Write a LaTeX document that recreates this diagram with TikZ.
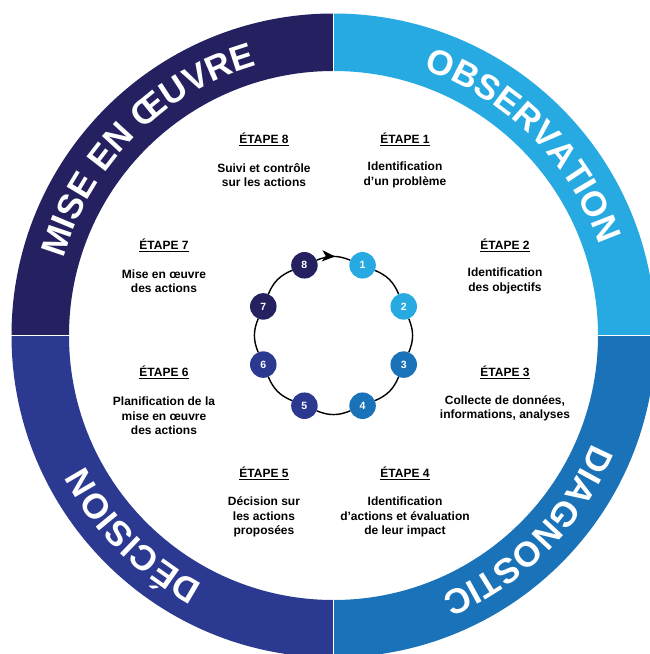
\documentclass[tikz,border=0pt]{standalone}
\usepackage{fontspec}
\setmainfont{Liberation Sans}
\usetikzlibrary{arrows.meta,decorations.text,decorations.markings}

\definecolor{obs}{HTML}{27AAE1}
\definecolor{diag}{HTML}{1A72B8}
\definecolor{deci}{HTML}{2B3990}
\definecolor{mise}{HTML}{252160}

\newcommand{\ringfont}{\fontsize{35}{35}\selectfont\bfseries}

\tikzset{
  pastille/.style={circle,minimum size=26.5pt,inner sep=0pt,text=white,
    font=\fontsize{10.5}{12}\selectfont\bfseries},
  titre/.style={font=\fontsize{12}{14.5}\selectfont\bfseries,inner sep=0pt},
  texte/.style={font=\fontsize{12}{14.5}\selectfont\bfseries,align=center,inner sep=0pt},
  boucle/.style={line width=1.4pt,black},
}

\begin{document}
\begin{tikzpicture}[x=1pt,y=1pt]
   \useasboundingbox (-333.5,-318.5) rectangle (316.5,335.5);
   \clip (-333.5,-318.5) rectangle (316.5,335.5);
   \fill[white] (-333.5,-318.5) rectangle (316.5,335.5);
   % ring
   \foreach \a/\c in {90/obs,0/diag,-90/deci,180/mise} {
    \fill[\c] (\a:322pt) arc[start angle=\a,end angle={\a-90},radius=322pt]
      -- ({\a-90}:264.5pt) arc[start angle={\a-90},end angle=\a,radius=264.5pt] -- cycle;
   }
   \foreach \a in {0,90,180,270}
    \draw[white,line width=1.5pt] (\a:262pt) -- (\a:326pt);
   \path[decorate,decoration={text along path,text align=center,text color=white,
     text={|\ringfont|OBSERVATION}}] (90:280.5pt) arc[start angle=90,end angle=0,radius=280.5pt];
   \path[decorate,decoration={text along path,text align=center,text color=white,
     text={|\ringfont|DIAGNOSTIC}}] (0:280.5pt) arc[start angle=0,end angle=-90,radius=280.5pt];
   \path[decorate,decoration={text along path,text align=center,text color=white,
     text={|\ringfont|DÉCISION}}] (-90:280.5pt) arc[start angle=-90,end angle=-180,radius=280.5pt];
   \path[decorate,decoration={text along path,text align=center,text color=white,
     text={|\ringfont|MISE EN ŒUVRE}}] (180:280.5pt) arc[start angle=180,end angle=90,radius=280.5pt];
   % cycle
   \foreach \i/\c in {1/obs,2/obs,3/diag,4/diag,5/deci,6/deci,7/mise,8/mise}
    \node[pastille,fill=\c] (n\i) at ({112.5-45*\i}:76pt) {\i};
   \foreach \i/\j in {1/2,2/3,3/4,4/5,5/6,6/7,7/8}
    \draw[boucle] (n\i) to[bend left=22.5] (n\j);
   \draw[boucle,postaction={decorate},decoration={markings,
     mark=at position 0.55 with {\arrow{Stealth[length=13pt,width=11pt,inset=3.5pt]}}}]
     (n8) to[bend left=22.5] (n1);
   % steps
   \node[titre] (t1) at (71.5,196.5) {\underline{ÉTAPE 1}};
   \node[texte] (d1) at (71.5,160.5) {Identification\\d’un problème};
   \node[titre] (t2) at (171.5,90.5) {\underline{ÉTAPE 2}};
   \node[texte] (d2) at (171.5,54.5) {Identification\\des objectifs};
   \node[titre] (t3) at (171.5,-36.5) {\underline{ÉTAPE 3}};
   \node[texte] (d3) at (171.5,-73) {Collecte de données,\\informations, analyses};
   \node[titre] (t4) at (71.5,-137.5) {\underline{ÉTAPE 4}};
   \node[texte] (d4) at (71.5,-181.5) {Identification\\d’actions et évaluation\\de leur impact};
   \node[titre] (t5) at (-69.5,-137.5) {\underline{ÉTAPE 5}};
   \node[texte] (d5) at (-69.5,-181.5) {Décision sur\\les actions\\proposées};
   \node[titre] (t6) at (-169.5,-36.5) {\underline{ÉTAPE 6}};
   \node[texte] (d6) at (-169.5,-80.5) {Planification de la\\mise en œuvre\\des actions};
   \node[titre] (t7) at (-169.5,90.5) {\underline{ÉTAPE 7}};
   \node[texte] (d7) at (-169.5,54.5) {Mise en œuvre\\des actions};
   \node[titre] (t8) at (-69.5,196.5) {\underline{ÉTAPE 8}};
   \node[texte] (d8) at (-69.5,160.5) {Suivi et contrôle\\sur les actions};
\end{tikzpicture}
\end{document}
